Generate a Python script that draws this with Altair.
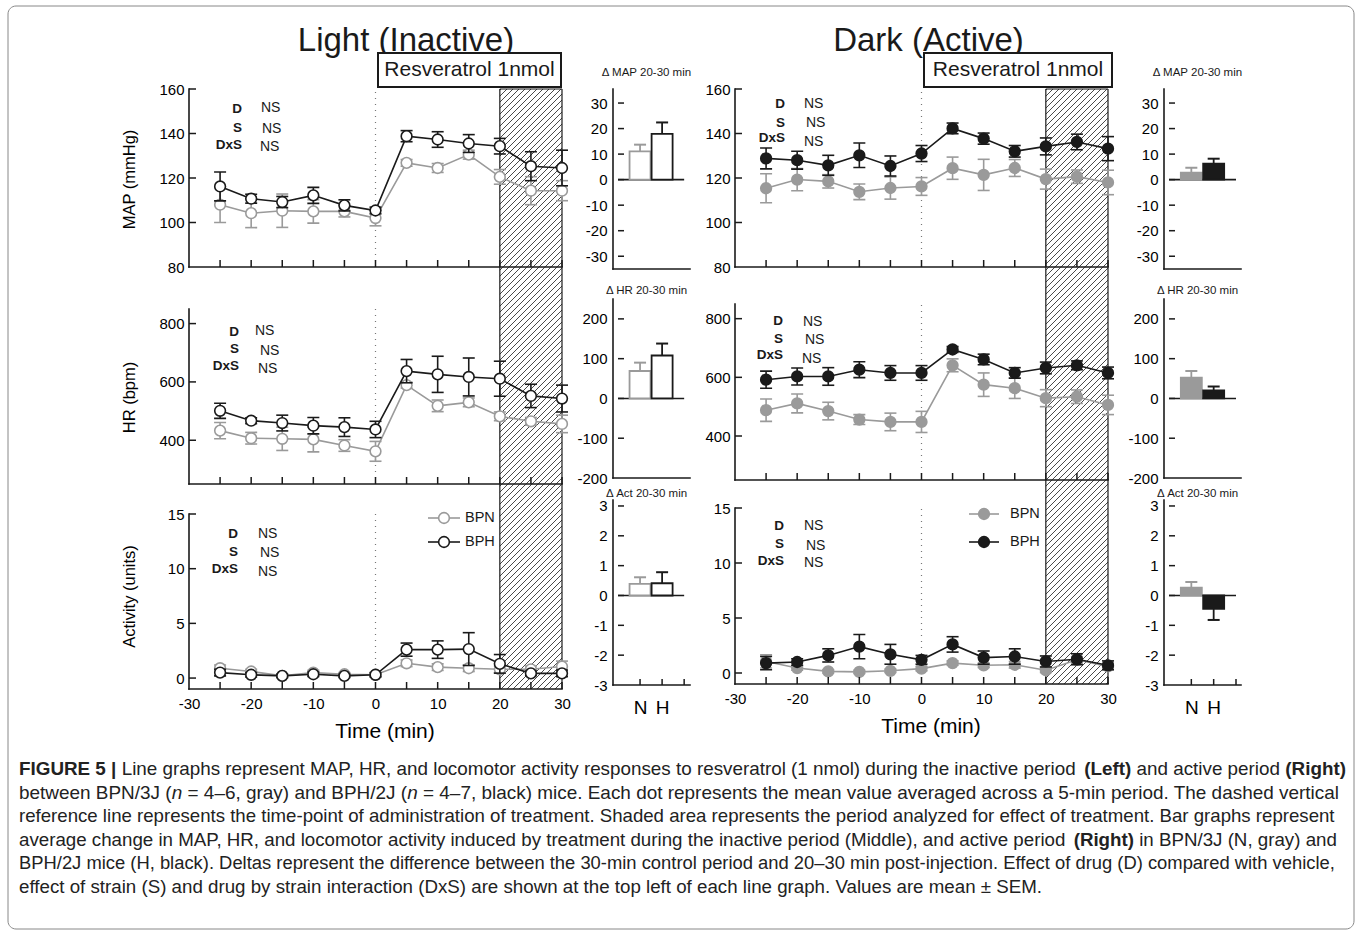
import altair as alt
import numpy as np
import pandas as pd

FONT = "Liberation Sans"
GRAY = "#9a9a9a"
BLACK = "#1a1a1a"

# ---------------- data ----------------
times = [-25, -20, -15, -10, -5, 0, 5, 10, 15, 20, 25, 30]

# Light (inactive) period
map_bpn_light = [108, 104.2, 105.3, 105, 105, 102, 126.8, 124.5, 130.5, 120.5, 114.3, 114.3]
map_bpn_light_sem = [8, 6.5, 7.5, 5.3, 2.5, 3.5, 1.5, 2, 2, 3.3, 6.3, 4.5]
map_bph_light = [116.2, 110.7, 109.2, 112.2, 107.7, 105.4, 138.8, 137.3, 135.5, 134.3, 125.3, 124.5]
map_bph_light_sem = [6.5, 2, 2.5, 3.6, 2.5, 1.5, 2.5, 3.5, 4, 3.5, 6.5, 8]

hr_bpn_light = [433, 407, 405, 403, 382, 362, 589, 518, 530, 482, 465, 456]
hr_bpn_light_sem = [28, 20, 40, 43, 20, 34, 10, 20, 15, 15, 13, 30]
hr_bph_light = [501, 467, 459, 450, 445, 437, 637, 626, 617, 611, 552, 543]
hr_bph_light_sem = [26, 10, 27, 28, 32, 28, 40, 62, 65, 60, 40, 46]

act_bpn_light = [0.9, 0.6, 0.2, 0.5, 0.35, 0.3, 1.35, 1.0, 0.9, 0.8, 0.8, 1.05]
act_bpn_light_sem = [0.3, 0.2, 0.15, 0.2, 0.15, 0.15, 0.3, 0.3, 0.3, 0.3, 0.3, 0.5]
act_bph_light = [0.5, 0.3, 0.2, 0.35, 0.2, 0.3, 2.6, 2.6, 2.65, 1.3, 0.43, 0.43]
act_bph_light_sem = [0.3, 0.2, 0.15, 0.2, 0.15, 0.2, 0.6, 0.8, 1.5, 0.85, 0.2, 0.3]

# Dark (active) period
map_bpn_dark = [115.4, 119.3, 118.5, 113.8, 115.5, 116.2, 124.4, 121.4, 124.5, 119.5, 120.6, 118]
map_bpn_dark_sem = [6.5, 5, 3, 3.5, 5, 4, 5, 7, 3.8, 4.5, 3, 5.5]
map_bph_dark = [128.8, 128, 125.7, 130.2, 125.4, 131, 142.3, 137.7, 132, 134.2, 136.2, 133.2]
map_bph_dark_sem = [4.7, 4, 4.5, 5.5, 4.5, 3.6, 2.4, 2.5, 2.6, 3.8, 3.5, 5.4]

hr_bpn_dark = [488, 511, 485, 456, 448, 448, 641, 575, 563, 529, 534, 506]
hr_bpn_dark_sem = [38, 32, 30, 17, 30, 36, 22, 40, 35, 29, 23, 33]
hr_bph_dark = [592, 603, 603, 626, 615, 615, 695, 661, 615, 632, 641, 615]
hr_bph_dark_sem = [29, 29, 30, 27, 25, 25, 10, 18, 18, 20, 15, 20]

act_bpn_dark = [1.05, 0.45, 0.15, 0.1, 0.2, 0.4, 0.9, 0.7, 0.75, 0.25, 1.2, 0.6]
act_bpn_dark_sem = [0.6, 0.2, 0.15, 0.15, 0.15, 0.2, 0.2, 0.2, 0.3, 0.2, 0.3, 0.3]
act_bph_dark = [0.9, 1.0, 1.6, 2.4, 1.7, 1.2, 2.6, 1.4, 1.5, 1.05, 1.25, 0.7]
act_bph_dark_sem = [0.6, 0.3, 0.6, 1.1, 0.9, 0.4, 0.7, 0.6, 0.7, 0.5, 0.5, 0.4]

# Delta 20-30 min bars: [N (BPN), H (BPH)]
bar_groups = ["N", "H"]
dmap_light = [11.1, 17.9]
dmap_light_sem = [2.6, 4.5]
dhr_light = [69, 108]
dhr_light_sem = [21, 30]
dact_light = [0.39, 0.41]
dact_light_sem = [0.22, 0.37]
dmap_dark = [2.7, 6.3]
dmap_dark_sem = [2.0, 1.9]
dhr_dark = [52, 20]
dhr_dark_sem = [17, 10]
dact_dark = [0.26, -0.45]
dact_dark_sem = [0.19, 0.37]

stat_names = ["D", "S", "DxS"]
stat_results = ["NS", "NS", "NS"]

# ---------------- layout (page pixels) ----------------
ROW_TOP = [88, 298, 499]
ROW_H = [194, 185, 189]
ROW_GAP = 16
COL_LEFT = [188, 612, 734, 1163]
COL_W = [373, 71, 378, 77]
COL_GAP = 51

LINE_AXIS_PX = {
    "L": {"MAP": (88, 266), "HR": (308, 483), "ACT": (513, 688)},
    "D": {"MAP": (88, 266), "HR": (303, 479), "ACT": (507, 683)},
}
LINE_DOM = {"MAP": (80, 160), "HR": (250, 850), "ACT": (-1, 15)}
LINE_LABELS = {"MAP": [80, 100, 120, 140, 160], "HR": [400, 600, 800], "ACT": [0, 5, 10, 15]}
LINE_YTICKS = {"MAP": [100, 120, 140, 160], "HR": [400, 600, 800], "ACT": [0, 5, 10, 15]}
Y_TITLES = {"MAP": "MAP (mmHg)", "HR": "HR (bpm)", "ACT": "Activity  (units)"}
Y_TITLE_CY = {"MAP": 178, "HR": 396, "ACT": 595}
BAR_AXIS_PX = {"MAP": (88, 268), "HR": (298, 477), "ACT": (499, 684)}
BAR_DOM = {"MAP": (-35, 35.5), "HR": (-200, 250), "ACT": (-3, 3.2)}
BAR_LABELS = {"MAP": [-30, -20, -10, 0, 10, 20, 30], "HR": [-200, -100, 0, 100, 200],
              "ACT": [-3, -2, -1, 0, 1, 2, 3]}
BAR_TITLES = {"MAP": "\u0394 MAP 20-30 min", "HR": "\u0394 HR 20-30 min", "ACT": "\u0394 Act 20-30 min"}
BAR_TITLE_Y = {"MAP": 71.5, "HR": 289.5, "ACT": 493}
ROWS = {"MAP": 0, "HR": 1, "ACT": 2}
PLAIN_LABEL = "'' + datum.value"

ONE = pd.DataFrame({"k": [0]})


class Lin:
    def __init__(self, v_a, p_a, v_b, p_b):
        self.v_a, self.p_a = v_a, p_a
        self.k = (p_b - p_a) / (v_b - v_a)

    def px(self, v):
        return self.p_a + (v - self.v_a) * self.k

    def val(self, p):
        return self.v_a + (p - self.p_a) / self.k


def vtext(text, x, y, size, weight="normal", align="left", color=BLACK, baseline="middle", style="normal"):
    return alt.Chart(ONE).mark_text(
        text=text, font=FONT, fontSize=size, fontWeight=weight, align=align,
        baseline=baseline, color=color, fontStyle=style
    ).encode(x=alt.value(x), y=alt.value(y))


def prule(left, top, x1, y1, x2, y2, color=BLACK, width=1.6, cap="square"):
    return alt.Chart(ONE).mark_rule(color=color, strokeWidth=width, strokeCap=cap).encode(
        x=alt.value(x1 - left), y=alt.value(y1 - top), x2=alt.value(x2 - left), y2=alt.value(y2 - top))


def hatch_layers(xm, ym, ya, yb, with_top, X, Y):
    xa, xb = xm.px(20), xm.px(30)
    rows = []
    step = 6.0
    c = np.floor((xa + ya) / step) * step
    while c <= xb + yb:
        x1 = max(xa, c - yb)
        x2 = min(xb, c - ya)
        if x2 - x1 > 0.4:
            rows.append({"t": xm.val(x1), "v": ym.val(c - x1), "t2": xm.val(x2), "v2": ym.val(c - x2)})
        c += step
    hdf = pd.DataFrame(rows)
    layers = [alt.Chart(hdf).mark_rule(color=BLACK, strokeWidth=0.8).encode(
        x=X("t:Q"), y=Y("v:Q"), x2="t2:Q", y2="v2:Q")]
    edf = pd.DataFrame({"t": [20, 30], "v": [ym.val(ya)] * 2, "v2": [ym.val(yb)] * 2})
    layers.append(alt.Chart(edf).mark_rule(color=BLACK, strokeWidth=1.2).encode(
        x=X("t:Q"), y=Y("v:Q"), y2="v2:Q"))
    if with_top:
        tdf = pd.DataFrame({"t": [20], "t2": [30], "v": [ym.val(ya)]})
        layers.append(alt.Chart(tdf).mark_rule(color=BLACK, strokeWidth=1.2).encode(
            x=X("t:Q"), x2="t2:Q", y=Y("v:Q")))
    return layers


def series_layers(vals, sem, color, fill, X, Y):
    df = pd.DataFrame({
        "t": times, "v": vals,
        "lo": [v - s for v, s in zip(vals, sem)],
        "hi": [v + s for v, s in zip(vals, sem)],
    })
    base = alt.Chart(df)
    return [
        base.mark_rule(color=color, strokeWidth=1.6).encode(x=X("t:Q"), y=Y("lo:Q"), y2="hi:Q"),
        base.mark_tick(color=color, orient="horizontal", size=12, thickness=1.6, opacity=1).encode(
            x=X("t:Q"), y=Y("lo:Q")),
        base.mark_tick(color=color, orient="horizontal", size=12, thickness=1.6, opacity=1).encode(
            x=X("t:Q"), y=Y("hi:Q")),
        base.mark_line(color=color, strokeWidth=1.6).encode(x=X("t:Q"), y=Y("v:Q")),
        base.mark_circle(fill=fill, stroke=color, strokeWidth=1.6, size=115, opacity=1,
                         fillOpacity=1).encode(x=X("t:Q"), y=Y("v:Q")),
    ]


def line_panel(side, var, bpn, bpn_sem, bph, bph_sem, stats, extras_fn=None):
    col = 0 if side == "L" else 2
    row = ROWS[var]
    left, top, W, H = COL_LEFT[col], ROW_TOP[row], COL_W[col], ROW_H[row]
    ax_top, ax_bot = LINE_AXIS_PX[side][var]
    vb, vt = LINE_DOM[var]
    xm = Lin(-30, left, 30, left + 373)
    ym = Lin(vt, ax_top, vb, ax_bot)
    xs = alt.Scale(domain=[xm.val(left), xm.val(left + W)], nice=False, zero=False)
    ys = alt.Scale(domain=[ym.val(top + H), ym.val(top)], nice=False, zero=False)

    if var == "ACT":
        xaxis = alt.Axis(values=[-30, -20, -10, 0, 10, 20, 30], labelExpr=PLAIN_LABEL,
                         ticks=False, domain=False,
                         labelFontSize=15, labelPadding=7, labelColor="black",
                         labelFont=FONT, labelFlush=False, labelOverlap=False, grid=False,
                         offset=ax_bot - (top + H),
                         title="Time (min)", titleFont=FONT, titleFontSize=21,
                         titleFontWeight="normal", titleX=373 / 2 + 9, titleY=42,
                         titleBaseline="middle", titleColor="black")
    else:
        xaxis = None
    yaxis = alt.Axis(values=LINE_LABELS[var], labelExpr=PLAIN_LABEL, ticks=False, domain=False,
                     labelFontSize=15, labelPadding=5, labelColor="black", labelFont=FONT,
                     labelFlush=False, labelOverlap=False, grid=False,
                     title=Y_TITLES[var] if side == "L" else None, titleFont=FONT,
                     titleFontSize=16.5, titleFontWeight="normal", titleX=-60,
                     titleY=Y_TITLE_CY[var] - top,
                     titleBaseline="middle", titleColor="black")

    def X(f):
        return alt.X(f, scale=xs, axis=xaxis)

    def Y(f):
        return alt.Y(f, scale=ys, axis=yaxis)

    layers = []
    nxt = {"MAP": "HR", "HR": "ACT"}
    hb = LINE_AXIS_PX[side][nxt[var]][0] if var in nxt else ax_bot
    layers += hatch_layers(xm, ym, ax_top, hb, var == "MAP", X, Y)
    zdf = pd.DataFrame({"t": [0], "v": [vb], "v2": [vt]})
    layers.append(alt.Chart(zdf).mark_rule(color="#777777", strokeWidth=1.2, strokeDash=[1, 5]).encode(
        x=X("t:Q"), y=Y("v:Q"), y2="v2:Q"))
    fill_n = "white" if side == "L" else GRAY
    fill_h = "white" if side == "L" else BLACK
    layers += series_layers(bpn, bpn_sem, GRAY, fill_n, X, Y)
    layers += series_layers(bph, bph_sem, BLACK, fill_h, X, Y)
    # axis lines
    layers.append(prule(left, top, xm.px(-30), ax_top, xm.px(-30), ax_bot))
    layers.append(prule(left, top, xm.px(-30), ax_bot, xm.px(30), ax_bot))
    # inward ticks
    xt = pd.DataFrame({"t": times, "v": [vb] * len(times)})
    layers.append(alt.Chart(xt).mark_tick(orient="vertical", size=7, thickness=1.5, yOffset=-3.5,
                                          color=BLACK, opacity=1).encode(x=X("t:Q"), y=Y("v:Q")))
    yt = pd.DataFrame({"t": [-30] * len(LINE_YTICKS[var]), "v": LINE_YTICKS[var]})
    layers.append(alt.Chart(yt).mark_tick(orient="horizontal", size=7, thickness=1.5, xOffset=3.5,
                                          color=BLACK, opacity=1).encode(x=X("t:Q"), y=Y("v:Q")))
    # statistics
    lab_x, lab_ys, ns_xs, ns_ys = stats
    for name, res, ly, nx, ny in zip(stat_names, stat_results, lab_ys, ns_xs, ns_ys):
        layers.append(vtext(name, lab_x - left, ly - top, 13.5, weight="bold", align="right"))
        layers.append(vtext(res, nx - left, ny - top, 14))
    if extras_fn is not None:
        layers += extras_fn(left, top)
    return alt.layer(*layers).properties(width=W, height=H)


def bar_panel(side, var, vals, sems):
    col = 1 if side == "L" else 3
    row = ROWS[var]
    left, top, W, H = COL_LEFT[col], ROW_TOP[row], COL_W[col], ROW_H[row]
    ax_top, ax_bot = BAR_AXIS_PX[var]
    vb, vt = BAR_DOM[var]
    xm = Lin(0, left, 3, left + 77)
    ym = Lin(vt, ax_top, vb, ax_bot)
    xs = alt.Scale(domain=[xm.val(left), xm.val(left + W)], nice=False, zero=False)
    ys = alt.Scale(domain=[ym.val(top + H), ym.val(top)], nice=False, zero=False)
    if var == "ACT":
        xaxis = alt.Axis(values=[1, 2], labelExpr="datum.value == 1 ? 'N' : 'H'", ticks=False,
                         domain=False, labelFontSize=19, labelPadding=13, labelFont=FONT,
                         labelColor="black", labelFlush=False, grid=False, title=None,
                         offset=ax_bot - (top + H))
    else:
        xaxis = None
    yaxis = alt.Axis(values=BAR_LABELS[var], labelExpr=PLAIN_LABEL, ticks=False, domain=False,
                     labelFontSize=15, labelPadding=6, labelFont=FONT, labelColor="black",
                     labelFlush=False, labelOverlap=False, grid=False, title=None)

    def X(f):
        return alt.X(f, scale=xs, axis=xaxis)

    def Y(f):
        return alt.Y(f, scale=ys, axis=yaxis)

    layers = []
    zdf = pd.DataFrame({"pos": [0], "pos2": [3], "v": [0]})
    layers.append(alt.Chart(zdf).mark_rule(color=BLACK, strokeWidth=1.6).encode(
        x=X("pos:Q"), x2="pos2:Q", y=Y("v:Q")))
    colors = [GRAY, BLACK]
    for i, (g, v, s) in enumerate(zip(bar_groups, vals, sems)):
        end = v + s if v >= 0 else v - s
        df = pd.DataFrame({"group": [g], "pos": [i + 1], "v": [v], "e": [end]})
        fill = "white" if side == "L" else colors[i]
        layers.append(alt.Chart(df).mark_rule(color=colors[i], strokeWidth=1.8).encode(
            x=X("pos:Q"), y=Y("v:Q"), y2="e:Q"))
        layers.append(alt.Chart(df).mark_tick(color=colors[i], orient="horizontal", size=12,
                                              thickness=2, opacity=1).encode(x=X("pos:Q"), y=Y("e:Q")))
        layers.append(alt.Chart(df).mark_bar(size=21, fill=fill, stroke=colors[i], strokeWidth=1.8,
                                             orient="vertical", opacity=1).encode(
            x=X("pos:Q"), y=Y("v:Q"), y2=alt.datum(0)))
    # axis lines
    layers.append(prule(left, top, xm.px(0), ax_top, xm.px(0), ax_bot))
    layers.append(prule(left, top, xm.px(0), ax_bot, xm.px(3), ax_bot))
    # inward ticks
    yvals = [v for v in BAR_LABELS[var] if v > vb + 1e-9]
    yt = pd.DataFrame({"pos": [0] * len(yvals), "v": yvals})
    layers.append(alt.Chart(yt).mark_tick(orient="horizontal", size=6, thickness=1.5, xOffset=3,
                                          color=BLACK, opacity=1).encode(x=X("pos:Q"), y=Y("v:Q")))
    if var == "ACT":
        xt = pd.DataFrame({"pos": [1, 2, 3], "v": [vb] * 3})
        layers.append(alt.Chart(xt).mark_tick(orient="vertical", size=6, thickness=1.5, yOffset=-3,
                                              color=BLACK, opacity=1).encode(x=X("pos:Q"), y=Y("v:Q")))
    layers.append(vtext(BAR_TITLES[var], xm.px(0) + 33.5 - left, BAR_TITLE_Y[var] - top, 11.5,
                        align="center"))
    return alt.layer(*layers).properties(width=W, height=H)


def legend_fn(x1, x2, xc, xt, y1, y2, fill_n, fill_h):
    def fn(left, top):
        out = []
        for y, col, fill, name in [(y1, GRAY, fill_n, "BPN"), (y2, BLACK, fill_h, "BPH")]:
            out.append(prule(left, top, x1, y, x2, y, color=col, width=1.6, cap="butt"))
            out.append(alt.Chart(ONE).mark_circle(fill=fill, stroke=col, strokeWidth=1.6, size=115,
                                                  opacity=1, fillOpacity=1).encode(
                x=alt.value(xc - left), y=alt.value(y - top)))
            out.append(vtext(name, xt - left, y - top, 14.5))
        return out
    return fn


def title_fn(title, cx, bx1, bx2):
    def fn(left, top):
        return [
            vtext(title, cx - left, 40 - top, 33, align="center"),
            alt.Chart(ONE).mark_rect(fill="white", stroke=BLACK, strokeWidth=2).encode(
                x=alt.value(bx1 - left), x2=alt.value(bx2 - left),
                y=alt.value(52 - top), y2=alt.value(86 - top)),
            vtext("Resveratrol 1nmol", (bx1 + bx2) / 2 - left, 69 - top, 21, align="center"),
        ]
    return fn


# ---------------- caption ----------------
AW = {" ": 278, "(": 333, ")": 333, ",": 278, "-": 333, ".": 278, "/": 278, ":": 278, "=": 584,
      "|": 260, "\u2013": 556, "\u00b1": 584,
      "A": 667, "B": 667, "C": 722, "D": 722, "E": 667, "F": 611, "G": 778, "H": 722, "I": 278,
      "J": 500, "K": 667, "L": 556, "M": 833, "N": 722, "O": 778, "P": 667, "Q": 778, "R": 722,
      "S": 667, "T": 611, "U": 722, "V": 667, "W": 944, "X": 667, "Y": 667, "Z": 611,
      "a": 556, "b": 556, "c": 500, "d": 556, "e": 556, "f": 278, "g": 556, "h": 556, "i": 222,
      "j": 222, "k": 500, "l": 222, "m": 833, "n": 556, "o": 556, "p": 556, "q": 556, "r": 333,
      "s": 500, "t": 278, "u": 556, "v": 500, "w": 722, "x": 500, "y": 500, "z": 500}
AWB = dict(AW)
AWB.update({"|": 280, "A": 722, "B": 722, "L": 611, "f": 333, "t": 333, "i": 278, "g": 611,
            "h": 611, "r": 389, "e": 556})


def text_w(s, bold=False):
    tab = AWB if bold else AW
    return sum(tab.get(ch, 556) for ch in s) / 1000.0


caption_lines = [
    [("FIGURE 5 |", "b"), (" Line graphs represent MAP, HR, and locomotor activity responses to resveratrol (1 nmol) during the inactive period ", "n"),
     ("(Left)", "b"), (" and active period ", "n"), ("(Right)", "b")],
    [("between BPN/3J (", "n"), ("n", "i"), (" = 4\u20136, gray) and BPH/2J (", "n"), ("n", "i"),
     (" = 4\u20137, black) mice. Each dot represents the mean value averaged across a 5-min period. The dashed vertical", "n")],
    [("reference line represents the time-point of administration of treatment. Shaded area represents the period analyzed for effect of treatment. Bar graphs represent", "n")],
    [("average change in MAP, HR, and locomotor activity induced by treatment during the inactive period (Middle), and active period ", "n"),
     ("(Right)", "b"), (" in BPN/3J (N, gray) and", "n")],
    [("BPH/2J mice (H, black). Deltas represent the difference between the 30-min control period and 20\u201330 min post-injection. Effect of drug (D) compared with vehicle,", "n")],
    [("effect of strain (S) and drug by strain interaction (DxS) are shown at the top left of each line graph. Values are mean \u00b1 SEM.", "n")],
]
caption_y = [768, 791.5, 815, 838.5, 862, 885.5]
caption_right = [1345, 1339, 1335, 1336, 1335, None]
CAP_X0 = 18.0


def line_em(segs):
    return sum(text_w(t, k == "b") for t, k in segs)


def caption_fn(left, top):
    out = []
    sizes = []
    for segs, right in zip(caption_lines, caption_right):
        if right is not None:
            sizes.append(min(19.2, (right - CAP_X0) / line_em(segs)))
    default_size = float(np.median(sizes))
    for segs, yp, right in zip(caption_lines, caption_y, caption_right):
        size = min(19.2, (right - CAP_X0) / line_em(segs)) if right is not None else default_size
        x = CAP_X0
        for text, kind in segs:
            bold = kind == "b"
            lead = len(text) - len(text.lstrip(" "))
            x += lead * 0.278 * size
            body = text.strip(" ")
            out.append(vtext(body, x - left, yp - top, size, weight="bold" if bold else "normal",
                             color="#222222", style="italic" if kind == "i" else "normal"))
            x += text_w(body, bold) * size
            trail = len(text) - len(text.rstrip(" "))
            x += trail * 0.278 * size
    out.append(alt.Chart(ONE).mark_rect(fillOpacity=0, fill="white", stroke="#888888", strokeWidth=1,
                                        cornerRadius=8).encode(
        x=alt.value(7 - left), x2=alt.value(1353 - left),
        y=alt.value(5 - top), y2=alt.value(928 - top)))
    return out


def combine(*fns):
    def fn(left, top):
        out = []
        for f in fns:
            out += f(left, top)
        return out
    return fn


# ---------------- panels ----------------
L_map = line_panel("L", "MAP", map_bpn_light, map_bpn_light_sem, map_bph_light, map_bph_light_sem,
                   (241, [108, 126.5, 144], [260, 261, 259], [107, 127.5, 146]),
                   title_fn("Light (Inactive)", 405, 377, 560))
L_hr = line_panel("L", "HR", hr_bpn_light, hr_bpn_light_sem, hr_bph_light, hr_bph_light_sem,
                  (238, [330.5, 348, 364.5], [254, 259, 257], [330, 350, 368]))
L_act = line_panel("L", "ACT", act_bpn_light, act_bpn_light_sem, act_bph_light, act_bph_light_sem,
                   (237, [533, 550.5, 567.5], [257, 259, 257], [533, 552, 571]),
                   combine(legend_fn(427, 459, 443, 464, 517, 541, "white", "white"), caption_fn))

D_map = line_panel("D", "MAP", map_bpn_dark, map_bpn_dark_sem, map_bph_dark, map_bph_dark_sem,
                   (784, [103, 121.5, 136.5], [803, 805, 803], [103, 122, 141]),
                   title_fn("Dark (Active)", 927.5, 923, 1111))
D_hr = line_panel("D", "HR", hr_bpn_dark, hr_bpn_dark_sem, hr_bph_dark, hr_bph_dark_sem,
                  (782, [320, 338, 354], [802, 804, 801], [321, 339, 358]))
D_act = line_panel("D", "ACT", act_bpn_dark, act_bpn_dark_sem, act_bph_dark, act_bph_dark_sem,
                   (783, [525, 543, 560], [803, 805, 803], [525, 545, 562]),
                   legend_fn(968, 998, 983, 1009, 513, 541, GRAY, BLACK))

Lb_map = bar_panel("L", "MAP", dmap_light, dmap_light_sem)
Lb_hr = bar_panel("L", "HR", dhr_light, dhr_light_sem)
Lb_act = bar_panel("L", "ACT", dact_light, dact_light_sem)
Db_map = bar_panel("D", "MAP", dmap_dark, dmap_dark_sem)
Db_hr = bar_panel("D", "HR", dhr_dark, dhr_dark_sem)
Db_act = bar_panel("D", "ACT", dact_dark, dact_dark_sem)

chart = alt.concat(
    L_map, Lb_map, D_map, Db_map,
    L_hr, Lb_hr, D_hr, Db_hr,
    L_act, Lb_act, D_act, Db_act,
    columns=4, bounds="flush", spacing={"row": ROW_GAP, "column": COL_GAP},
).resolve_scale(x="independent", y="independent").properties(
    padding={"left": 7, "top": 5, "right": 4, "bottom": 4},
    background="white",
).configure_view(stroke=None).configure_axis(grid=False)

chart.save("out.html", embed_options={"renderer": "svg", "actions": False})
